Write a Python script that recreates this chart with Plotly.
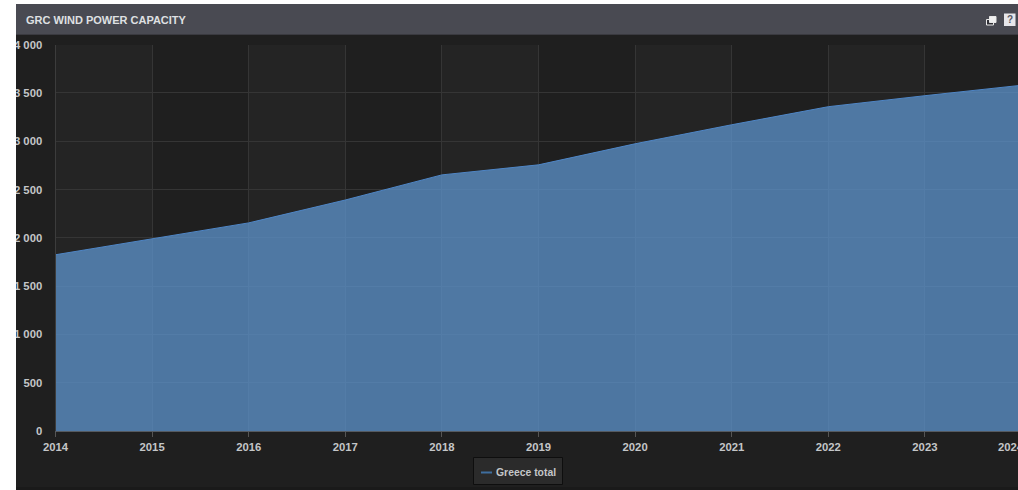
import plotly.graph_objects as go

# Installed wind capacity for Greece, in MW
years = [2014, 2015, 2016, 2017, 2018, 2019, 2020, 2021, 2022, 2023, 2024]
capacity = [1825, 1990, 2155, 2392, 2652, 2756, 2974, 3171, 3358, 3472, 3580]
series_name = "Greece total"
chart_title = "GRC WIND POWER CAPACITY"
y_ticks = [0, 500, 1000, 1500, 2000, 2500, 3000, 3500, 4000]
y_tick_labels = ["0", "500", "1 000", "1 500", "2 000", "2 500", "3 000", "3 500", "4 000"]

W, H = 1018, 490
px = lambda v: v / W
py = lambda v: 1 - v / H

font_name = "Liberation Sans"
grey = "#c4c6c8"

# Plot area runs off the right edge, so the last year sits just past the window
plot_left, plot_right_full = 55.5, 1021.5
year_px = (plot_right_full - plot_left) / (years[-1] - years[0])
x_max = years[0] + (W - plot_left) / year_px

fig = go.Figure()
fig.add_trace(go.Scatter(
    x=years, y=capacity, mode="lines", name=series_name,
    line=dict(color="#4f86c6", width=1),
    fill="tozeroy", fillcolor="rgba(93,148,205,0.75)",
    hoverinfo="x+y", showlegend=False,
))

shapes = [
    # panel background and header bar
    dict(type="rect", xref="paper", yref="paper", x0=px(16), x1=1, y0=py(490), y1=py(4),
         fillcolor="#1f1f1f", line_width=0, layer="below"),
    dict(type="rect", xref="paper", yref="paper", x0=px(16), x1=1, y0=py(490), y1=py(487),
         fillcolor="#1a1a1a", line_width=0, layer="below"),
    dict(type="rect", xref="paper", yref="paper", x0=px(16), x1=1, y0=py(34), y1=py(4),
         fillcolor="#494a52", line_width=0, layer="below"),
    dict(type="rect", xref="paper", yref="paper", x0=px(16), x1=1, y0=py(35), y1=py(34),
         fillcolor="#3a3a40", line_width=0, layer="below"),
    # white margin that crops the axis labels on the left
    dict(type="rect", xref="paper", yref="paper", x0=0, x1=px(16), y0=0, y1=1,
         fillcolor="#ffffff", line_width=0, layer="above"),
    # restore-window icon
    dict(type="rect", xref="paper", yref="paper", x0=px(986.5), x1=px(993.5), y0=py(25), y1=py(19.5),
         fillcolor="#303036", line=dict(color="#e8e8e8", width=1), layer="above"),
    dict(type="rect", xref="paper", yref="paper", x0=px(989.5), x1=px(996), y0=py(22.5), y1=py(16.5),
         fillcolor="#f0f0f0", line=dict(color="#e8e8e8", width=1), layer="above"),
    # help icon
    dict(type="rect", xref="paper", yref="paper", x0=px(1004), x1=px(1015.5), y0=py(26), y1=py(13.5),
         fillcolor="#e6e6ea", line_width=0, layer="above"),
    # legend box
    dict(type="rect", xref="paper", yref="paper", x0=px(473.5), x1=px(562.5), y0=py(484.5), y1=py(457.5),
         fillcolor="#2b2b2b", line=dict(color="#0e0e0e", width=1), layer="below"),
    dict(type="line", xref="paper", yref="paper", x0=px(481), x1=px(492), y0=py(472.5), y1=py(472.5),
         line=dict(color="#3f6e9f", width=2), layer="above"),
]

# Alternating lighter columns behind the grid, one for every other year
for start, end in zip(years[::2], years[1::2]):
    shapes.append(dict(type="rect", xref="x", yref="y", x0=start, x1=end, y0=y_ticks[0], y1=y_ticks[-1],
                       fillcolor="#242424", line_width=0, layer="below"))

annotations = [
    dict(text=f"<b>{chart_title}</b>", xref="paper", yref="paper", x=px(23.5), y=py(19.5),
         xanchor="left", yanchor="middle", showarrow=False,
         font=dict(family=font_name, size=11, color="#dfe0e2")),
    dict(text="<b>?</b>", xref="paper", yref="paper", x=px(1009.7), y=py(19.5),
         xanchor="center", yanchor="middle", showarrow=False,
         font=dict(family=font_name, size=10, color="#55555f")),
    dict(text=f"<b>{series_name}</b>", xref="paper", yref="paper", x=px(494), y=py(472.5),
         xanchor="left", yanchor="middle", showarrow=False,
         font=dict(family=font_name, size=10.4, color=grey)),
    # last year label, pulled left of its tick and still cut by the edge
    dict(text=f"<b>{years[-1]}</b>", xref="paper", yref="paper", x=px(995.5), y=py(447),
         xanchor="left", yanchor="middle", showarrow=False,
         font=dict(family=font_name, size=11.3, color=grey)),
]

fig.update_layout(
    width=W, height=H, autosize=False,
    margin=dict(l=0, r=0, t=0, b=0),
    paper_bgcolor="#ffffff", plot_bgcolor="#1e1e1e",
    shapes=shapes, annotations=annotations,
    xaxis=dict(
        automargin=False,
        domain=[px(plot_left), 1], range=[years[0], x_max],
        tickmode="array", tickvals=years[:-1], ticktext=[str(y) for y in years[:-1]],
        showgrid=True, gridcolor="#353535", gridwidth=1,
        ticks="outside", ticklen=5, tickcolor="#555555", tickwidth=1,
        showline=True, linecolor="#555a60", linewidth=1,
        tickfont=dict(family=font_name, size=11.3, color=grey, weight="bold"),
        zeroline=False,
    ),
    yaxis=dict(
        automargin=False,
        domain=[py(431), py(44.7)], range=[0, 4000],
        tickmode="array", tickvals=y_ticks, ticktext=y_tick_labels,
        showgrid=True, gridcolor="#353535", gridwidth=1,
        ticks="", ticklabelstandoff=10,
        showline=True, linecolor="#3c3c3c", linewidth=1,
        tickfont=dict(family=font_name, size=11.3, color=grey, weight="bold"),
        zeroline=False,
    ),
)

fig.write_html("out.html")
